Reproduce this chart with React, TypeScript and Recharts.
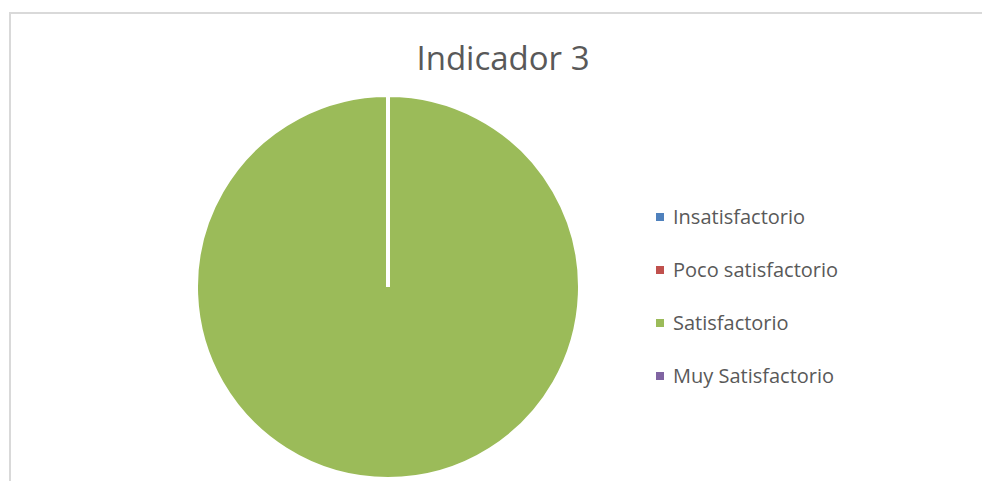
import { PieChart, Pie, Cell, Legend } from 'recharts';

const categories = ['Insatisfactorio', 'Poco satisfactorio', 'Satisfactorio', 'Muy Satisfactorio'];
const values = [0, 0, 100, 0];
const colors = ['#4F81BD', '#C0504D', '#9BBB59', '#8064A2'];

const data = categories.map((name, i) => ({ name, value: values[i] }));

const font = '"Open Sans", Lato, sans-serif';

function LegendList() {
  return (
    <ul style={{ listStyle: 'none', margin: 0, padding: 0 }}>
      {categories.map((name, i) => (
        <li
          key={name}
          style={{ display: 'flex', alignItems: 'center', height: 53, fontFamily: font, fontSize: 20, color: '#595959' }}
        >
          <span style={{ display: 'inline-block', width: 8, height: 8, background: colors[i], marginRight: 9 }} />
          {name}
        </li>
      ))}
    </ul>
  );
}

export default function App() {
  return (
    <div style={{ position: 'fixed', left: 0, top: 0, width: 982, height: 481, overflow: 'hidden', background: '#fff' }}>
      <div
        style={{
          position: 'absolute',
          left: 9,
          top: 12,
          width: 1000,
          height: 500,
          border: '2px solid #d9d9d9',
          boxSizing: 'border-box',
        }}
      />
      <div
        style={{
          position: 'absolute',
          left: 0,
          width: 1006,
          top: 35,
          textAlign: 'center',
          fontFamily: font,
          fontSize: 33,
          color: '#595959',
        }}
      >
        Indicador 3
      </div>
      <div style={{ position: 'absolute', left: 0, top: 0 }}>
        <PieChart width={982} height={481} margin={{ top: 0, right: 0, bottom: 0, left: 0 }}>
          <Pie
            data={data}
            dataKey="value"
            nameKey="name"
            cx={388}
            cy={287}
            outerRadius={192}
            startAngle={90}
            endAngle={-270}
            stroke="#ffffff"
            strokeWidth={4}
            isAnimationActive={false}
          >
            {data.map((d, i) => (
              <Cell key={d.name} fill={colors[i]} />
            ))}
          </Pie>
          <Legend
            layout="vertical"
            content={<LegendList />}
            wrapperStyle={{ left: 656, top: 190, width: 260 }}
          />
        </PieChart>
      </div>
    </div>
  );
}
